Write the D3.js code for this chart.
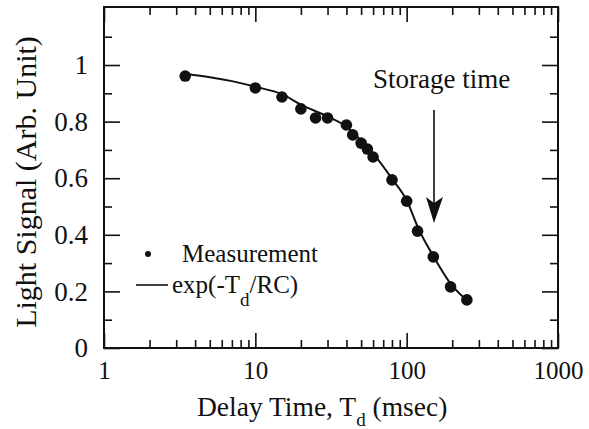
<!DOCTYPE html>
<html>
<head>
<meta charset="utf-8">
<script src="https://cdn.jsdelivr.net/npm/d3@7"></script>
<style>
  body { margin: 0; background: #fff; }
  svg text { font-family: "Liberation Serif", "Times New Roman", serif; fill: #111; }
</style>
</head>
<body>
<script>
/* DATA */
var delay     = [3.44, 10, 15, 20, 25, 30, 40, 44, 50, 55, 60, 80, 100, 118, 150, 195, 250];
var signal    = [0.961, 0.919, 0.887, 0.845, 0.813, 0.813, 0.788, 0.753, 0.724, 0.703, 0.675, 0.594, 0.519, 0.413, 0.322, 0.216, 0.170];
var fitDelay  = [3.5, 5, 7, 10, 15, 20, 30, 40, 50, 60, 80, 100, 120, 150, 200, 250];
var fitSignal = [0.968, 0.957, 0.943, 0.923, 0.897, 0.860, 0.818, 0.782, 0.733, 0.688, 0.598, 0.522, 0.420, 0.325, 0.220, 0.168];
var xMajor    = [1, 10, 100, 1000];
var xLabels   = ["1", "10", "100", "1000"];
var yMajor    = [0, 0.2, 0.4, 0.6, 0.8, 1];
var yLabels   = ["0", "0.2", "0.4", "0.6", "0.8", "1"];
var yMinor    = [0.1, 0.3, 0.5, 0.7, 0.9, 1.1];

/* LAYOUT */
var W = 589, H = 429,
    pL = 104, pR = 558, pT = 7, pB = 348,
    ink = '#111';

var x = d3.scaleLog().domain([1, 1000]).range([pL, pR]);
var y = d3.scaleLinear().domain([0, 1.205]).range([pB, pT]);
var xMinor = x.ticks().filter(function(d){ return xMajor.indexOf(d) < 0; });

var svg = d3.select('body').append('svg')
  .attr('width', W)
  .attr('height', H);

svg.append('rect').attr('width', W).attr('height', H).attr('fill', '#fff');

/* AXES (ticks point inward on all four sides) */
function styleAxis(g){
  g.select('.domain').remove();
  g.selectAll('line').attr('stroke', ink).attr('stroke-width', 1.6);
  g.selectAll('text').attr('fill', ink);
  g.attr('font-family', null);
}

var fmtX = function(d){ return xLabels[xMajor.indexOf(d)]; };
var fmtY = function(d){ return yLabels[yMajor.indexOf(d)]; };

svg.append('g').attr('transform', 'translate(0,' + pB + ')')
  .call(d3.axisBottom(x).tickValues(xMajor).tickFormat(fmtX).tickSize(-15).tickPadding(13))
  .call(styleAxis)
  .attr('font-size', 25);
svg.append('g').attr('transform', 'translate(0,' + pB + ')')
  .call(d3.axisBottom(x).tickValues(xMinor).tickFormat('').tickSize(-8))
  .call(styleAxis);
svg.append('g').attr('transform', 'translate(0,' + pT + ')')
  .call(d3.axisTop(x).tickValues(xMajor).tickFormat('').tickSize(-15))
  .call(styleAxis);
svg.append('g').attr('transform', 'translate(0,' + pT + ')')
  .call(d3.axisTop(x).tickValues(xMinor).tickFormat('').tickSize(-8))
  .call(styleAxis);

svg.append('g').attr('transform', 'translate(' + pL + ',0)')
  .call(d3.axisLeft(y).tickValues(yMajor).tickFormat(fmtY).tickSize(-16).tickPadding(16))
  .call(styleAxis)
  .attr('font-size', 27);
svg.append('g').attr('transform', 'translate(' + pL + ',0)')
  .call(d3.axisLeft(y).tickValues(yMinor).tickFormat('').tickSize(-8))
  .call(styleAxis);
svg.append('g').attr('transform', 'translate(' + pR + ',0)')
  .call(d3.axisRight(y).tickValues(yMajor).tickFormat('').tickSize(-16))
  .call(styleAxis);
svg.append('g').attr('transform', 'translate(' + pR + ',0)')
  .call(d3.axisRight(y).tickValues(yMinor).tickFormat('').tickSize(-8))
  .call(styleAxis);

/* FRAME */
svg.append('rect')
  .attr('x', pL).attr('y', pT)
  .attr('width', pR - pL).attr('height', pB - pT)
  .attr('fill', 'none').attr('stroke', ink).attr('stroke-width', 2);

/* FIT CURVE */
var line = d3.line()
  .x(function(d){ return x(d[0]); })
  .y(function(d){ return y(d[1]); })
  .curve(d3.curveMonotoneX);

svg.append('path')
  .datum(d3.zip(fitDelay, fitSignal))
  .attr('d', line)
  .attr('fill', 'none')
  .attr('stroke', ink)
  .attr('stroke-width', 2);

/* MEASUREMENTS */
svg.selectAll('circle.pt')
  .data(d3.zip(delay, signal))
  .enter()
    .append('circle')
    .attr('class', 'pt')
    .attr('cx', function(d){ return x(d[0]); })
    .attr('cy', function(d){ return y(d[1]); })
    .attr('r', 5.8)
    .attr('fill', ink);

/* LEGEND */
svg.append('circle').attr('cx', 148).attr('cy', 254).attr('r', 3).attr('fill', ink);
svg.append('text').attr('x', 182).attr('y', 262).attr('font-size', 25).text('Measurement');

svg.append('line')
  .attr('x1', 136).attr('x2', 168).attr('y1', 285).attr('y2', 285)
  .attr('stroke', ink).attr('stroke-width', 1.6);
var fit = svg.append('text').attr('x', 172).attr('y', 293).attr('font-size', 25);
fit.append('tspan').text('exp(-T');
fit.append('tspan').attr('font-size', 19).attr('dy', 13).text('d');
fit.append('tspan').attr('dy', -13).text('/RC)');

/* ANNOTATION */
svg.append('text').attr('x', 373).attr('y', 88).attr('font-size', 27).text('Storage time');
svg.append('line')
  .attr('x1', 434).attr('x2', 434).attr('y1', 110).attr('y2', 205)
  .attr('stroke', ink).attr('stroke-width', 1.6);
svg.append('path')
  .attr('d', 'M434,223L426,197L434,203L443,197Z')
  .attr('fill', ink);

/* AXIS TITLES */
var xt = svg.append('text').attr('x', 197).attr('y', 416).attr('font-size', 27.5);
xt.append('tspan').text('Delay Time, T');
xt.append('tspan').attr('font-size', 19).attr('dy', 10).text('d');
xt.append('tspan').attr('dy', -10).text(' (msec)');

svg.append('text')
  .attr('transform', 'translate(36,182) rotate(-90)')
  .attr('text-anchor', 'middle')
  .attr('font-size', 30)
  .text('Light Signal (Arb. Unit)');
</script>
</body>
</html>
